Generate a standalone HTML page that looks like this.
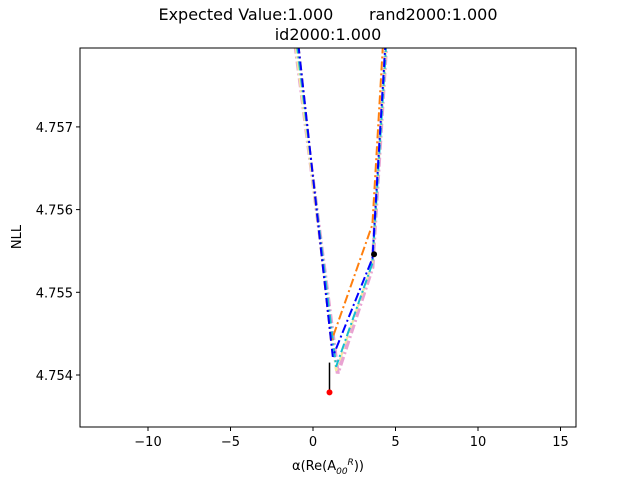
<!DOCTYPE html>
<html><head><meta charset="utf-8"><style>
body{margin:0;background:#fff;}
svg text{font-family:"DejaVu Sans","Liberation Sans",sans-serif;fill:#000;}
</style></head><body>
<svg id="chart" width="640" height="480" xmlns="http://www.w3.org/2000/svg">
<text x="328" y="20" font-size="16" text-anchor="middle" xml:space="preserve">Expected Value:1.000       rand2000:1.000</text>
<text x="328" y="40" font-size="16" text-anchor="middle">id2000:1.000</text>
<defs><clipPath id="clip"><rect x="80" y="48" width="496" height="379"/></clipPath></defs>
<g id="marks" clip-path="url(#clip)"></g>
<rect x="80" y="48" width="496" height="379" fill="none" stroke="#000" stroke-width="1"/>
<g id="axes"></g>
<text x="328" y="470" font-size="13" text-anchor="middle">α(Re(A<tspan font-style="italic" font-size="9" dy="4">00</tspan><tspan font-style="italic" font-size="9" dy="-9">R</tspan><tspan dy="5">))</tspan></text>
<text transform="translate(21,237) rotate(-90)" font-size="13" text-anchor="middle">NLL</text>
</svg>
<script>
const xTicks=[-10,-5,0,5,10,15];
const yTicks=[4.754,4.755,4.756,4.757];
const yTickLabels=["4.754","4.755","4.756","4.757"];
const seriesNames=["pink","gray","olive","cyan","orange","blue"];
const seriesColors=["#e9a3d2","#c7c7c7","#f5e9a0","#17becf","#ff7f0e","#0000ff"];
const seriesWidths=[4,2,2,2,2,2];
const seriesX=[
 [-1.2,1.5,3.6,4.5],
 [-1.2,1.4,3.6,4.5],
 [-1.2,1.4,3.6,4.5],
 [-1.1,1.4,3.6,4.5],
 [-1.0,1.1,3.6,4.3],
 [-1.0,1.2,3.6,4.45]];
const seriesY=[
 [4.7582,4.75402,4.75530,4.7582],
 [4.7582,4.75405,4.75535,4.7582],
 [4.7582,4.75405,4.75535,4.7582],
 [4.7582,4.75410,4.75535,4.7582],
 [4.7582,4.75440,4.75582,4.7582],
 [4.7582,4.75422,4.75541,4.7582]];
const bestX=[3.7], bestY=[4.75546];
const trueX=[1.0], trueY=[4.75379], trueTop=[4.75415];
const X=v=>313+(v)*16.5;
const Y=v=>375-(v-4.754)*82700;
const NS="http://www.w3.org/2000/svg";
const marks=document.getElementById('marks'), axes=document.getElementById('axes');
function mk(t,a,p){const e=document.createElementNS(NS,t);for(const k in a)e.setAttribute(k,a[k]);p.appendChild(e);return e;}
seriesX.forEach((xs,i)=>{
 const pl=mk('polyline',{points:xs.map((x,j)=>X(x)+','+Y(seriesY[i][j])).join(' '),fill:'none',stroke:seriesColors[i],'stroke-width':seriesWidths[i],'stroke-dasharray':'9,3,2,3'},marks);
 
 
});
const vl=mk('line',{x1:X(trueX[0]),x2:X(trueX[0]),y1:Y(trueY[0]),y2:Y(trueTop[0]),stroke:'#000','stroke-width':1.5},marks);


const bd=mk('circle',{cx:X(bestX[0]),cy:Y(bestY[0]),r:3,fill:'#000'},marks);


const rd=mk('circle',{cx:X(trueX[0]),cy:Y(trueY[0]),r:3,fill:'#ff0000'},marks);


xTicks.forEach(v=>{
 const l=mk('line',{x1:X(v),x2:X(v),y1:427,y2:431,stroke:'#000'},axes);
 
 
 const t=mk('text',{x:X(v),y:446,'font-size':13,'text-anchor':'middle'},axes);
 t.textContent=(v<0?'\u2212'+(-v):v);
 
 
});
yTicks.forEach((v,i)=>{
 const l=mk('line',{x1:76,x2:80,y1:Y(v),y2:Y(v),stroke:'#000'},axes);
 
 
 const t=mk('text',{x:73,y:Y(v)+5,'font-size':13,'text-anchor':'end'},axes);
 t.textContent=yTickLabels[i];
 
 
});
</script>
</body></html>
